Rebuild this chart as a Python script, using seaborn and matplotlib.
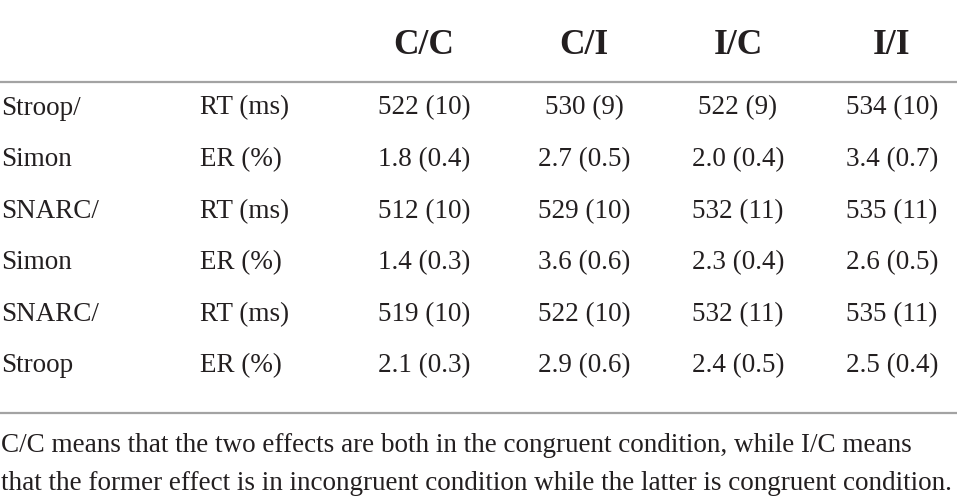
import matplotlib
matplotlib.use("Agg")
import matplotlib.pyplot as plt
import seaborn as sns
import pandas as pd

# ---- data ----
conditions = ["C/C", "C/I", "I/C", "I/I"]
row_labels = ["Stroop/", "Simon", "SNARC/", "Simon", "SNARC/", "Stroop"]
measures = ["RT (ms)", "ER (%)", "RT (ms)", "ER (%)", "RT (ms)", "ER (%)"]
cc_values = ["522 (10)", "1.8 (0.4)", "512 (10)", "1.4 (0.3)", "519 (10)", "2.1 (0.3)"]
ci_values = ["530 (9)", "2.7 (0.5)", "529 (10)", "3.6 (0.6)", "522 (10)", "2.9 (0.6)"]
ic_values = ["522 (9)", "2.0 (0.4)", "532 (11)", "2.3 (0.4)", "532 (11)", "2.4 (0.5)"]
ii_values = ["534 (10)", "3.4 (0.7)", "535 (11)", "2.6 (0.5)", "535 (11)", "2.5 (0.4)"]
footnote_lines = [
    "C/C means that the two effects are both in the congruent condition, while I/C means",
    "that the former effect is in incongruent condition while the latter is congruent condition.",
]

table = pd.DataFrame({"label": row_labels, "measure": measures,
                      "C/C": cc_values, "C/I": ci_values,
                      "I/C": ic_values, "I/I": ii_values})

# ---- layout ----
sns.set_theme(style="white")
plt.rcParams["font.family"] = ["Liberation Serif", "DejaVu Serif"]
TXT = "#231f20"
RULE = "#a3a3a3"

fig = plt.figure(figsize=(9.57, 5.03), dpi=100)
ax = fig.add_axes([0, 0, 1, 1])
ax.set_xlim(0, 957)
ax.set_ylim(503, 0)
ax.axis("off")

col_x = [424, 584, 738, 892]
label_x = 1
measure_x = 200
header_base = 54
row_base0 = 114.5
row_step = 51.6
body_fs = 19.5
head_fs = 25.5

for cx, name in zip(col_x, conditions):
    ax.text(cx, header_base, name, ha="center", va="baseline",
            fontsize=head_fs, fontweight="bold", color=TXT)

ax.axhline(82, color=RULE, lw=1.6)

for i, row in table.iterrows():
    yb = row_base0 + i * row_step
    ax.text(label_x, yb, row["label"], ha="left", va="baseline", fontsize=body_fs, color=TXT)
    ax.text(measure_x, yb, row["measure"], ha="left", va="baseline", fontsize=body_fs, color=TXT)
    for cx, name in zip(col_x, conditions):
        ax.text(cx, yb, row[name], ha="center", va="baseline", fontsize=body_fs, color=TXT)

ax.axhline(413, color=RULE, lw=1.6)

for j, line in enumerate(footnote_lines):
    ax.text(1, 452 + j * 38, line, ha="left", va="baseline", fontsize=body_fs, color=TXT)

fig.savefig("out.png", dpi=100, facecolor="white")
